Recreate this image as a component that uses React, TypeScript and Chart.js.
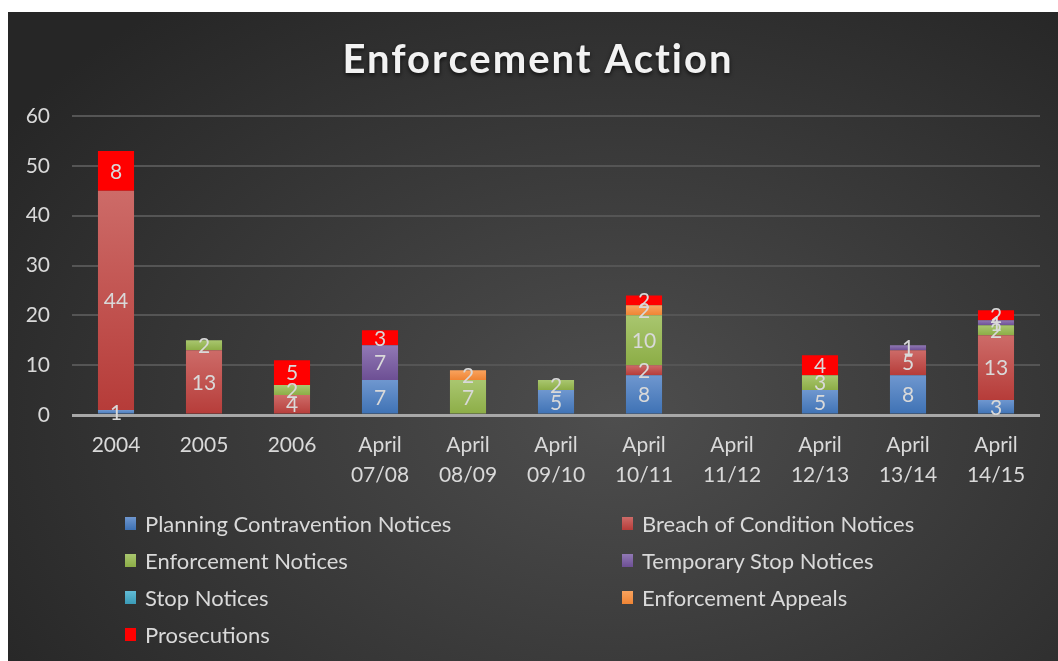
import React, { useEffect, useRef } from 'react';
import { Chart, registerables } from 'chart.js';
Chart.register(...registerables);

const FONT = 'Lato, "Open Sans", sans-serif';

const categories: (string | string[])[] = [
  '2004', '2005', '2006',
  ['April', '07/08'], ['April', '08/09'], ['April', '09/10'], ['April', '10/11'],
  ['April', '11/12'], ['April', '12/13'], ['April', '13/14'], ['April', '14/15'],
];

const planningContravention = [1, 0, 0, 7, 0, 5, 8, 0, 5, 8, 3];
const breachOfCondition = [44, 13, 4, 0, 0, 0, 2, 0, 0, 5, 13];
const enforcementNotices = [0, 2, 2, 0, 7, 2, 10, 0, 3, 0, 2];
const temporaryStop = [0, 0, 0, 7, 0, 0, 0, 0, 0, 1, 1];
const stopNotices = [0, 0, 0, 0, 0, 0, 0, 0, 0, 0, 0];
const enforcementAppeals = [0, 0, 0, 0, 2, 0, 2, 0, 0, 0, 0];
const prosecutions = [8, 0, 5, 3, 0, 0, 2, 0, 4, 0, 2];

const seriesNames = [
  'Planning Contravention Notices',
  'Breach of Condition Notices',
  'Enforcement Notices',
  'Temporary Stop Notices',
  'Stop Notices',
  'Enforcement Appeals',
  'Prosecutions',
];
const seriesValues = [
  planningContravention, breachOfCondition, enforcementNotices,
  temporaryStop, stopNotices, enforcementAppeals, prosecutions,
];
// [top colour, bottom colour]
const seriesColors: [string, string][] = [
  ['#6f97cf', '#3d71b4'],
  ['#cd6b68', '#b63c39'],
  ['#a9c66f', '#8cad46'],
  ['#9179b5', '#6d4f94'],
  ['#62bcd6', '#3a9ab6'],
  ['#f9a35e', '#ef8434'],
  ['#ff0000', '#ff0000'],
];
const legendOrder = [0, 1, 2, 3, 4, 5, 6];

export default function App() {
  const ref = useRef<HTMLCanvasElement>(null);
  useEffect(() => {
    if (!ref.current) return;
    const baseOf = (di: number, i: number) => {
      let s = 0;
      for (let k = 0; k < di; k++) s += seriesValues[k][i] || 0;
      return s;
    };
    const labelPlugin = {
      id: 'segLabels',
      afterDatasetsDraw(chart: any) {
        const ctx = chart.ctx;
        ctx.save();
        ctx.font = `21px ${FONT}`;
        ctx.fillStyle = '#d9d9d9';
        ctx.textAlign = 'center';
        ctx.textBaseline = 'middle';
        chart.data.datasets.forEach((ds: any, di: number) => {
          const meta = chart.getDatasetMeta(di);
          meta.data.forEach((el: any, i: number) => {
            const v = ds.data[i];
            if (!v) return;
            ctx.fillText(String(v), el.x, (el.y + el.base) / 2 + 1);
          });
        });
        ctx.restore();
      },
    };
    const titlePlugin = {
      id: 'customTitle',
      afterDraw(chart: any) {
        const ctx = chart.ctx;
        ctx.save();
        ctx.font = `bold 40px ${FONT}`;
        try { (ctx as any).letterSpacing = '2px'; } catch (e) {}
        ctx.fillStyle = '#f2f2f2';
        ctx.textAlign = 'center';
        ctx.textBaseline = 'middle';
        ctx.shadowColor = 'rgba(0,0,0,0.7)';
        ctx.shadowBlur = 4;
        ctx.shadowOffsetY = 2;
        ctx.fillText('Enforcement Action', 530, 48);
        ctx.restore();
      },
    };
    const chart = new Chart(ref.current, {
      type: 'bar',
      data: {
        labels: categories,
        datasets: seriesValues.map((vals, di) => ({
          label: seriesNames[di],
          data: vals,
          backgroundColor: (c: any) => {
            const [top, bottom] = seriesColors[di];
            const ch = c.chart;
            const ys = ch.scales && ch.scales.y;
            if (!ys || c.type !== 'data') return bottom;
            const i = c.dataIndex;
            const b = baseOf(di, i);
            const y0 = ys.getPixelForValue(b + (vals[i] || 0));
            const y1 = ys.getPixelForValue(b);
            if (!isFinite(y0) || !isFinite(y1) || y0 === y1) return bottom;
            const g = ch.ctx.createLinearGradient(0, y0, 0, y1);
            g.addColorStop(0, top);
            g.addColorStop(1, bottom);
            return g;
          },
          borderWidth: 0,
          categoryPercentage: 1,
          barPercentage: 0.41,
        })),
      },
      options: {
        animation: false,
        responsive: true,
        maintainAspectRatio: false,
        layout: { padding: { left: 6, right: 18, top: 104, bottom: 156 } },
        plugins: { legend: { display: false }, tooltip: { enabled: false }, title: { display: false } },
        scales: {
          x: {
            stacked: true,
            grid: { display: false },
            border: { display: false },
            ticks: { color: '#d9d9d9', font: { family: FONT, size: 21, lineHeight: 1.4 }, padding: 8, maxRotation: 0, autoSkip: false },
            afterFit: (s: any) => { s.height = 90; },
          },
          y: {
            stacked: true,
            min: 0,
            max: 60,
            border: { display: false },
            grid: {
              drawTicks: false,
              color: (c: any) => (c.tick && c.tick.value === 0 ? '#a8a8a8' : '#555555'),
              lineWidth: (c: any) => (c.tick && c.tick.value === 0 ? 3 : 2),
            },
            ticks: { stepSize: 10, color: '#d9d9d9', font: { family: FONT, size: 21 }, padding: 22 },
            afterFit: (s: any) => { s.width = 58; },
          },
        },
      },
      plugins: [labelPlugin, titlePlugin],
    } as any);
    return () => chart.destroy();
  }, []);

  const rowsY = [511, 548, 585, 622];
  const colX = [117, 614];
  return (
    <div
      style={{
        position: 'fixed', left: 8, top: 12, width: 1050, height: 649, overflow: 'hidden',
        background: 'radial-gradient(ellipse 70% 80% at 58% 62%, #4e4e4e 0%, #3c3c3c 45%, #262626 100%)',
      }}
    >
      <div style={{ position: 'absolute', inset: 0 }}>
        <canvas ref={ref} style={{ display: 'block' }} />
      </div>
      {legendOrder.map((di, k) => {
        const row = Math.floor(k / 2);
        const col = k % 2;
        const [top, bottom] = seriesColors[di];
        return (
          <div
            key={di}
            style={{
              position: 'absolute', left: colX[col], top: rowsY[row] - 14, height: 28,
              display: 'flex', alignItems: 'center', whiteSpace: 'nowrap',
              fontFamily: FONT, fontSize: 22, color: '#d9d9d9',
            }}
          >
            <span style={{ display: 'inline-block', width: 11, height: 13, marginRight: 9, background: `linear-gradient(${top}, ${bottom})` }} />
            {seriesNames[di]}
          </div>
        );
      })}
    </div>
  );
}
